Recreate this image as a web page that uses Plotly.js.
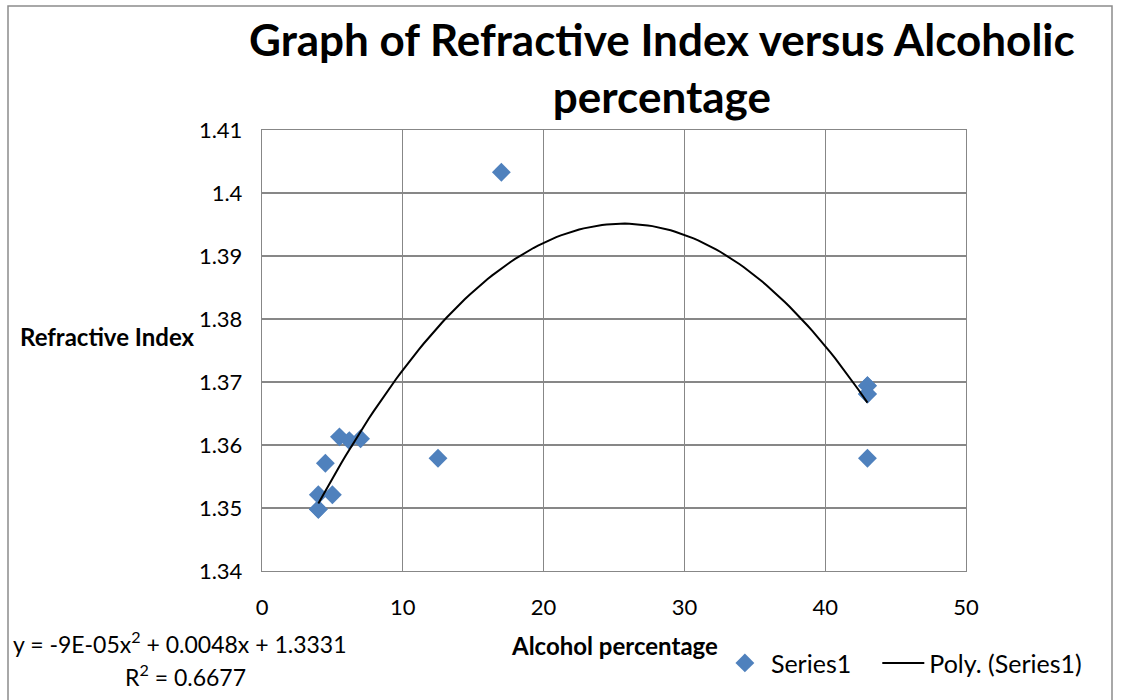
<!DOCTYPE html>
<html>
<head>
<meta charset="utf-8">
<script src="https://cdn.plot.ly/plotly-3.0.1.min.js"></script>
<style>
html,body{margin:0;padding:0;background:#fff;}
#chart{width:1121px;height:700px;}
</style>
</head>
<body>
<div id="chart"></div>
<script>
// ---- data (overlapping markers repeated) ----
const alcoholPct = [4, 4, 4, 5, 4.5, 5.5, 6.2, 7, 12.5, 17, 43, 43, 43, 43, 43];
const refractiveIdx = [1.3498, 1.3498, 1.3521, 1.3521, 1.3571, 1.3613, 1.3607, 1.3610, 1.3579, 1.4033, 1.3694, 1.3694, 1.3681, 1.3681, 1.3579];
const xTickVals = [0, 10, 20, 30, 40, 50];
const xTickText = ['0', '10', '20', '30', '40', '50'];
const yTickVals = [1.34, 1.35, 1.36, 1.37, 1.38, 1.39, 1.40, 1.41];
const yTickText = ['1.34', '1.35', '1.36', '1.37', '1.38', '1.39', '1.4', '1.41'];
const seriesName = 'Series1';
const trendName = 'Poly. (Series1)';
const equationText = 'y = -9E-05x<sup>2</sup> + 0.0048x + 1.3331';
const r2Text = 'R<sup>2</sup> = 0.6677';

// ---- 2nd order least-squares trendline (as Excel computes it) ----
function polyFit2(xs, ys) {
  let S = [0,0,0,0,0], T = [0,0,0];
  for (let i = 0; i < xs.length; i++) {
    let p = 1;
    for (let k = 0; k < 5; k++) { S[k] += p; if (k < 3) T[k] += p * ys[i]; p *= xs[i]; }
  }
  const A = [[S[0],S[1],S[2],T[0]],[S[1],S[2],S[3],T[1]],[S[2],S[3],S[4],T[2]]];
  for (let c = 0; c < 3; c++) {
    let m = c;
    for (let r = c+1; r < 3; r++) if (Math.abs(A[r][c]) > Math.abs(A[m][c])) m = r;
    [A[c], A[m]] = [A[m], A[c]];
    for (let r = 0; r < 3; r++) if (r !== c) {
      const f = A[r][c] / A[c][c];
      for (let k = c; k < 4; k++) A[r][k] -= f * A[c][k];
    }
  }
  return [A[0][3]/A[0][0], A[1][3]/A[1][1], A[2][3]/A[2][2]];
}
const coef = polyFit2(alcoholPct, refractiveIdx);
const xmin = Math.min(...alcoholPct), xmax = Math.max(...alcoholPct);
const trendX = [], trendY = [];
const nSteps = 120;
for (let i = 0; i <= nSteps; i++) {
  const x = xmin + (xmax - xmin) * i / nSteps;
  trendX.push(x);
  trendY.push(coef[0] + coef[1]*x + coef[2]*x*x);
}

const FONT = 'Lato, "Liberation Sans", Arial, sans-serif';
const GRID = '#878787';

const traces = [
  {
    x: alcoholPct, y: refractiveIdx, type: 'scatter', mode: 'markers', name: seriesName,
    marker: {symbol: 'diamond', size: 14.5, color: '#4f81bd', line: {width: 0}},
    legend: 'legend'
  },
  {
    x: trendX, y: trendY, type: 'scatter', mode: 'lines', name: trendName,
    line: {color: '#000000', width: 2},
    legend: 'legend2'
  }
];

const legendCommon = {
  orientation: 'h', xanchor: 'left', y: -0.209, yanchor: 'middle',
  font: {family: FONT, size: 25, color: '#000'}, bgcolor: 'rgba(0,0,0,0)',
  itemwidth: 42
};

const layout = {
  width: 1121, height: 700,
  margin: {l: 262, r: 155, t: 130, b: 129},
  paper_bgcolor: '#ffffff', plot_bgcolor: '#ffffff',
  font: {family: FONT, size: 20, color: '#000'},
  title: {
    text: '<b>Graph of Refractive Index versus Alcoholic<br>percentage</b>',
    font: {family: FONT, size: 44, color: '#000'},
    xref: 'paper', x: 0.568, xanchor: 'center',
    yref: 'container', y: 0.92, yanchor: 'top'
  },
  xaxis: {
    range: [0, 50], tickvals: xTickVals, ticktext: xTickText,
    showgrid: true, gridcolor: GRID, gridwidth: 1.2,
    showline: true, linecolor: GRID, linewidth: 1.2, mirror: true,
    zeroline: false, ticks: '', ticklabelstandoff: 16,
    tickfont: {family: FONT, size: 22, color: '#000'}
  },
  yaxis: {
    range: [1.34, 1.41], tickvals: yTickVals, ticktext: yTickText,
    showgrid: true, gridcolor: GRID, gridwidth: 1.2,
    showline: true, linecolor: GRID, linewidth: 1.2, mirror: true,
    zeroline: false, ticks: '', ticklabelstandoff: 14,
    tickfont: {family: FONT, size: 22, color: '#000'}
  },
  showlegend: true,
  legend: Object.assign({}, legendCommon, {x: 0.649}),
  legend2: Object.assign({}, legendCommon, {x: 0.874}),
  annotations: [
    {text: '<b>Refractive Index</b>', xref: 'paper', yref: 'paper',
     x: (18-262)/704, xanchor: 'left', y: (571-336)/441, yanchor: 'middle',
     showarrow: false, font: {family: FONT, size: 24, color: '#000'}},
    {text: '<b>Alcohol percentage</b>', xref: 'paper', yref: 'paper',
     x: (614-262)/704, xanchor: 'center', y: (571-645)/441, yanchor: 'middle',
     showarrow: false, font: {family: FONT, size: 24, color: '#000'}},
    {text: equationText, xref: 'paper', yref: 'paper',
     x: (11-262)/704, xanchor: 'left', y: (571-642)/441, yanchor: 'middle',
     showarrow: false, font: {family: FONT, size: 23, color: '#000'}},
    {text: r2Text, xref: 'paper', yref: 'paper',
     x: (185-262)/704, xanchor: 'center', y: (571-675)/441, yanchor: 'middle',
     showarrow: false, font: {family: FONT, size: 23, color: '#000'}}
  ],
  shapes: [
    {type: 'rect', xref: 'paper', yref: 'paper',
     x0: (8-262)/704, x1: (1112-262)/704, y0: (571-710)/441, y1: (571-6)/441,
     line: {color: '#8c8c8c', width: 1.5}, fillcolor: 'rgba(0,0,0,0)', layer: 'below'}
  ]
};

Plotly.newPlot('chart', traces, layout, {displayModeBar: false, staticPlot: true});
</script>
</body>
</html>
